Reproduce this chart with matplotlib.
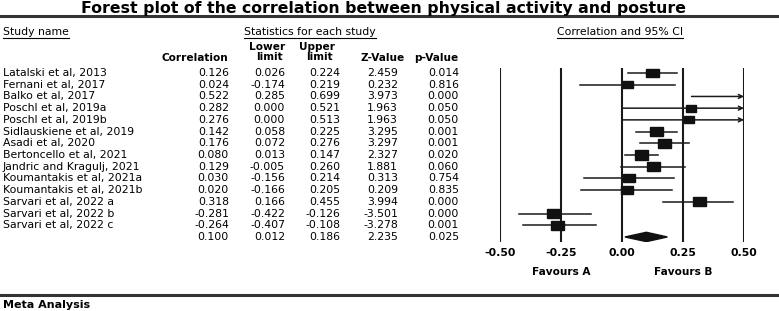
import numpy as np
import matplotlib
matplotlib.use('Agg')
import matplotlib.pyplot as plt
from matplotlib.patches import Rectangle, Polygon
from matplotlib.lines import Line2D
import matplotlib.transforms as mtransforms

plt.rcParams['font.family'] = ['DejaVu Sans']

# study data
studies = ['Latalski et al, 2013', 'Fernani et al, 2017', 'Balko et al, 2017',
           'Poschl et al, 2019a', 'Poschl et al, 2019b', 'Sidlauskiene et al, 2019',
           'Asadi et al, 2020', 'Bertoncello et al, 2021', 'Jandric and Kragulj, 2021',
           'Koumantakis et al, 2021a', 'Koumantakis et al, 2021b', 'Sarvari et al, 2022 a',
           'Sarvari et al, 2022 b', 'Sarvari et al, 2022 c']
corr = [0.126, 0.024, 0.522, 0.282, 0.276, 0.142, 0.176, 0.080, 0.129, 0.030, 0.020, 0.318, -0.281, -0.264]
lower = [0.026, -0.174, 0.285, 0.000, 0.000, 0.058, 0.072, 0.013, -0.005, -0.156, -0.166, 0.166, -0.422, -0.407]
upper = [0.224, 0.219, 0.699, 0.521, 0.513, 0.225, 0.276, 0.147, 0.260, 0.214, 0.205, 0.455, -0.126, -0.108]
zval = [2.459, 0.232, 3.973, 1.963, 1.963, 3.295, 3.297, 2.327, 1.881, 0.313, 0.209, 3.994, -3.501, -3.278]
pval = [0.014, 0.816, 0.000, 0.050, 0.050, 0.001, 0.001, 0.020, 0.060, 0.754, 0.835, 0.000, 0.000, 0.001]
# relative box size (study weight)
weight = [1.0, 0.85, 0.9, 0.78, 0.78, 1.05, 1.0, 1.05, 1.0, 0.92, 0.92, 1.0, 1.05, 1.0]

pooled = (0.100, 0.012, 0.186, 2.235, 0.025)

xticks = [-0.50, -0.25, 0.00, 0.25, 0.50]

W, H = 779, 311
fig = plt.figure(figsize=(W / 100, H / 100), dpi=100)


def fx(px):
    return px / W


def fy(py):
    return 1 - py / H


# forest axes: x from px 500 to 744, y from px 68 to 242
n_rows = len(studies) + 1
ax = fig.add_axes([fx(500), fy(242), fx(744) - fx(500), fy(68) - fy(242)])
ax.set_xlim(-0.5, 0.5)
ax.set_ylim(n_rows - 1 + 0.43, -0.43)
for s in ax.spines.values():
    s.set_visible(False)
ax.set_yticks([])
ax.set_xticks(xticks)
ax.set_xticklabels([f'{t:.2f}' for t in xticks], fontweight='bold', fontsize=7.8)
ax.tick_params(axis='x', length=0, pad=4)
for t in xticks:
    ax.axvline(t, color='#1a1a1a', lw=1.5, zorder=1)

lc = '#1a1a1a'
box_w = 0.053
box_h = 0.75
xmax = 0.5
for i in range(len(studies)):
    lo, hi, c = lower[i], upper[i], corr[i]
    if hi > xmax:
        ax.annotate('', xy=(xmax, i), xytext=(lo, i),
                    arrowprops=dict(arrowstyle='->', color=lc, lw=1.1,
                                    shrinkA=0, shrinkB=0, mutation_scale=7))
    else:
        ax.plot([lo, hi], [i, i], color=lc, lw=1.1, zorder=2)
    if c < xmax:
        w = box_w * weight[i]
        h = box_h * weight[i]
        ax.add_patch(Rectangle((c - w / 2, i - h / 2), w, h, color='#111111', zorder=3))

# pooled diamond
r = n_rows - 1
pc, pl, pu = pooled[0], pooled[1], pooled[2]
ax.add_patch(Polygon([[pl, r], [pc, r - 0.4], [pu, r], [pc, r + 0.4]],
                     closed=True, color='#111111', zorder=3))

# table text (x in figure coords, y in row coords)
trans = mtransforms.blended_transform_factory(fig.transFigure, ax.transData)
fs = 7.8
fb = 7.6
cols = [229, 285, 340, 398, 459]
for i, name in enumerate(studies):
    ax.text(fx(3), i, name, transform=trans, ha='left', va='center', fontsize=fs, clip_on=False)
    vals = [corr[i], lower[i], upper[i], zval[i], pval[i]]
    for v, xr in zip(vals, cols):
        ax.text(fx(xr), i, f'{v:.3f}', transform=trans, ha='right', va='center', fontsize=fs, clip_on=False)
for v, xr in zip(pooled, cols):
    ax.text(fx(xr), r, f'{v:.3f}', transform=trans, ha='right', va='center', fontsize=fs, clip_on=False)

# headers
fig.text(fx(383), fy(8.5), 'Forest plot of the correlation between physical activity and posture',
         ha='center', va='center', fontsize=11.3, fontweight='bold')
fig.add_artist(Line2D([0, 1], [fy(15.5), fy(15.5)], color='#333333', lw=2.2))

under = []
under.append(fig.text(fx(3), fy(32), 'Study name', ha='left', va='center', fontsize=fs))
under.append(fig.text(fx(310), fy(32), 'Statistics for each study', ha='center', va='center', fontsize=fs))
under.append(fig.text(fx(620), fy(32), 'Correlation and 95% CI', ha='center', va='center', fontsize=fs))

fig.text(fx(195), fy(58), 'Correlation', ha='center', va='center', fontsize=fb, fontweight='bold')
fig.text(fx(267), fy(46.5), 'Lower', ha='center', va='center', fontsize=fb, fontweight='bold')
fig.text(fx(269), fy(57.5), 'limit', ha='center', va='center', fontsize=fb, fontweight='bold')
fig.text(fx(317), fy(46.5), 'Upper', ha='center', va='center', fontsize=fb, fontweight='bold')
fig.text(fx(319), fy(57.5), 'limit', ha='center', va='center', fontsize=fb, fontweight='bold')
fig.text(fx(383), fy(58), 'Z-Value', ha='center', va='center', fontsize=fb, fontweight='bold')
fig.text(fx(436), fy(58), 'p-Value', ha='center', va='center', fontsize=fb, fontweight='bold')

ftrans = mtransforms.blended_transform_factory(ax.transData, fig.transFigure)
ax.text(-0.25, fy(272), 'Favours A', transform=ftrans, ha='center', va='center',
        fontsize=fb, fontweight='bold', clip_on=False)
ax.text(0.25, fy(272), 'Favours B', transform=ftrans, ha='center', va='center',
        fontsize=fb, fontweight='bold', clip_on=False)

fig.add_artist(Line2D([0, 1], [fy(295), fy(295)], color='#333333', lw=2.2))
fig.text(fx(3), fy(305), 'Meta Analysis', ha='left', va='center', fontsize=8, fontweight='bold')

# underline the section headers
fig.canvas.draw()
renderer = fig.canvas.get_renderer()
inv = fig.transFigure.inverted()
for t in under:
    bb = t.get_window_extent(renderer)
    (x0, y0), (x1, _) = inv.transform([[bb.x0, bb.y0], [bb.x1, bb.y1]])
    fig.add_artist(Line2D([x0, x1], [y0 - 0.002, y0 - 0.002], color='black', lw=0.8))

fig.savefig('out.png', dpi=100)
